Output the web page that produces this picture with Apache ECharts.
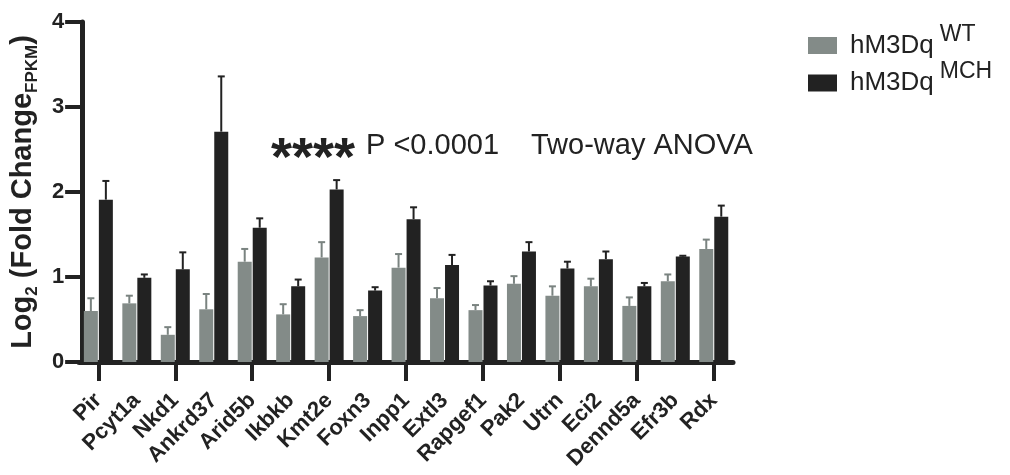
<!DOCTYPE html>
<html><head><meta charset="utf-8">
<script src="https://cdn.jsdelivr.net/npm/echarts@6/dist/echarts.min.js"></script>
<style>html,body{margin:0;padding:0;background:#fff}#c{width:1010px;height:475px}</style>
</head><body><div id="c"></div>
<script>
const categories = ['Pir','Pcyt1a','Nkd1','Ankrd37','Arid5b','Ikbkb','Kmt2e','Foxn3','Inpp1','Extl3','Rapgef1','Pak2','Utrn','Eci2','Dennd5a','Efr3b','Rdx'];
const wtMean = [0.60,0.69,0.32,0.62,1.18,0.56,1.23,0.54,1.11,0.75,0.61,0.92,0.78,0.89,0.66,0.95,1.33];
const wtErr  = [0.15,0.09,0.09,0.18,0.15,0.12,0.18,0.07,0.16,0.12,0.06,0.09,0.11,0.09,0.10,0.08,0.11];
const mchMean = [1.91,0.99,1.09,2.71,1.58,0.89,2.03,0.84,1.68,1.14,0.90,1.30,1.10,1.21,0.89,1.24,1.71];
const mchErr  = [0.22,0.04,0.20,0.65,0.11,0.08,0.11,0.04,0.14,0.12,0.05,0.11,0.08,0.09,0.04,0.01,0.13];
const yTicks = [0,1,2,3,4];

const FONT = 'Liberation Sans';
const GREY = '#838b88';
const BLACK = '#222222';
const BAR_W = 14, BAR_GAP_PX = 1;
const OFF = (BAR_W + BAR_GAP_PX) / 2;

function errSeries(name, means, errs, sign, color) {
  return {
    name: name + '_err', type: 'custom', z: 3, silent: true,
    data: means.map((m, i) => [i, m, errs[i]]),
    renderItem: function (params, api) {
      const i = api.value(0), m = api.value(1), e = api.value(2);
      const b = api.coord([i, m]);
      const t = api.coord([i, m + e]);
      const x = b[0] + sign * OFF;
      return { type: 'group', children: [
        { type: 'line', shape: { x1: x, y1: b[1], x2: x, y2: t[1] }, style: { stroke: color, lineWidth: 2 } },
        { type: 'line', shape: { x1: x - 3.5, y1: t[1], x2: x + 3.5, y2: t[1] }, style: { stroke: color, lineWidth: 2 } }
      ]};
    }
  };
}

const chart = echarts.init(document.getElementById('c'), null, { renderer: 'canvas' });
chart.setOption({
  backgroundColor: '#fff',
  animation: false,
  textStyle: { fontFamily: FONT },
  grid: { left: 77, right: 277, top: 22, bottom: 113 },
  legend: {
    orient: 'vertical', left: 808, top: 23, padding: 0, itemGap: 2,
    icon: 'rect', itemWidth: 29, itemHeight: 17,
    data: ['WT', 'MCH'],
    formatter: n => '{b|hM3Dq}{s|' + n + '}',
    textStyle: {
      color: BLACK,
      rich: {
        b: { fontFamily: FONT, fontSize: 26, color: BLACK, padding: [0, 0, 0, 8] },
        s: { fontFamily: FONT, fontSize: 23, color: BLACK, padding: [0, 0, 22, 6] }
      }
    }
  },
  xAxis: [{
    type: 'category', data: categories, position: 'bottom',
    axisLine: { show: true, lineStyle: { color: BLACK, width: 5 } },
    axisTick: { show: false },
    axisLabel: { show: true, interval: 0, rotate: 45, margin: 35, fontFamily: FONT, fontSize: 22, fontWeight: 'bold', color: BLACK }
  }, {
    type: 'category', data: categories, position: 'bottom', offset: 0,
    axisLine: { show: false },
    axisTick: { show: true, alignWithLabel: true, length: 19, lineStyle: { color: BLACK, width: 4 } },
    axisLabel: { show: false }
  }],
  yAxis: {
    type: 'value', min: yTicks[0], max: yTicks[yTicks.length - 1], interval: 1, offset: -3,
    splitLine: { show: false },
    axisLine: { show: true, lineStyle: { color: BLACK, width: 5 } },
    axisTick: { show: true, length: 17, lineStyle: { color: BLACK, width: 4 } },
    axisLabel: { margin: 18, fontFamily: FONT, fontSize: 22, fontWeight: 'bold', color: BLACK },
    name: '{b|Log}{s|2}{b| (Fold Change}{s|FPKM}{b|)}',
    nameLocation: 'middle', nameGap: 34,
    nameTextStyle: {
      rich: {
        b: { fontFamily: FONT, fontSize: 29, fontWeight: 'bold', color: BLACK },
        s: { fontFamily: FONT, fontSize: 17, fontWeight: 'bold', color: BLACK, padding: [20, 0, 0, 0] }
      }
    }
  },
  graphic: [
    { type: 'text', x: 271, y: 160, style: { text: '****', font: 'bold 54px "Liberation Sans"', fill: BLACK, verticalAlign: 'middle', align: 'left' } },
    { type: 'text', x: 366, y: 145.5, style: { text: 'P <0.0001', font: '29px "Liberation Sans"', fill: BLACK, verticalAlign: 'middle', align: 'left' } },
    { type: 'text', x: 531, y: 145.5, style: { text: 'Two-way ANOVA', font: '29px "Liberation Sans"', fill: BLACK, verticalAlign: 'middle', align: 'left' } }
  ],
  series: [
    { name: 'WT', type: 'bar', data: wtMean, barWidth: BAR_W, barGap: (BAR_GAP_PX / BAR_W * 100) + '%', itemStyle: { color: GREY } },
    { name: 'MCH', type: 'bar', data: mchMean, barWidth: BAR_W, itemStyle: { color: BLACK } },
    errSeries('WT', wtMean, wtErr, -1, '#7a8380'),
    errSeries('MCH', mchMean, mchErr, 1, BLACK)
  ]
});
</script></body></html>
